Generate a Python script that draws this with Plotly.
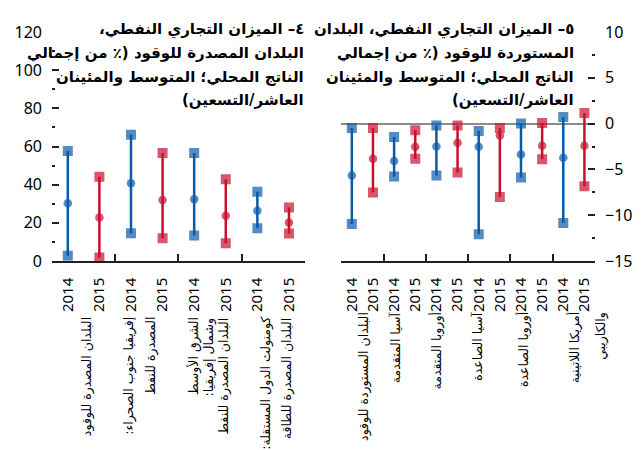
import plotly.graph_objects as go

# ---------------- data ----------------
years = ["2014", "2015"]

exp_groups = [
    "البلدان المصدرة للوقود",
    "إفريقيا جنوب الصحراء:<br>المصدرة للنفط",
    "الشرق الأوسط<br>وشمال إفريقيا:<br>البلدان المصدرة للنفط",
    "كومنولث الدول المستقلة:<br>البلدان المصدرة للطاقة",
]
exp_2014_p10 = [2.8, 14.5, 13.3, 17.1]
exp_2014_mean = [30.3, 40.7, 32.4, 26.3]
exp_2014_p90 = [57.6, 66.1, 56.6, 36.3]
exp_2015_p10 = [1.8, 11.9, 9.3, 14.4]
exp_2015_mean = [22.8, 32.0, 23.7, 20.2]
exp_2015_p90 = [44.1, 56.6, 42.9, 28.0]

imp_groups = [
    "البلدان المستوردة للوقود",
    "آسيا المتقدمة",
    "أوروبا المتقدمة",
    "آسيا الصاعدة",
    "أوروبا الصاعدة",
    "أمريكا اللاتينية<br>والكاريبي",
]
imp_2014_p10 = [-10.95, -5.78, -5.67, -12.07, -5.89, -10.84]
imp_2014_mean = [-5.67, -4.08, -2.49, -2.53, -3.36, -3.72]
imp_2014_p90 = [-0.47, -1.45, -0.22, -0.80, 0.0, 0.72]
imp_2015_p10 = [-7.52, -3.83, -5.35, -8.02, -3.90, -6.83]
imp_2015_mean = [-3.83, -2.53, -2.10, -1.30, -2.42, -2.42]
imp_2015_p90 = [-0.47, -0.72, -0.22, -0.47, 0.07, 1.16]

title_left = "٤– الميزان التجاري النفطي،<br>البلدان المصدرة للوقود (٪ من إجمالي<br>الناتج المحلي؛ المتوسط والمئينان<br>العاشر/التسعين)"
title_right = "٥– الميزان التجاري النفطي، البلدان<br>المستوردة للوقود (٪ من إجمالي<br>الناتج المحلي؛ المتوسط والمئينان<br>العاشر/التسعين)"

# ---------------- style ----------------
BLUE = "#0a5aa8"
RED = "#c8102e"
AXIS = "#231f20"
NUM_FONT = "Noto Sans"
AR_FONT = "DejaVu Sans"
PLOT_TOP = 32
PLOT_H = 229


def rtl(s):
    return "\u200f" + s + "\u200f"


def range_trace(k, lo, mid, hi, color, xa, ya):
    x, y, sym, size = [], [], [], []
    for g, (a, b, c) in enumerate(zip(lo, mid, hi)):
        xi = 2 * g + k
        x += [xi, xi, xi, None]
        y += [a, b, c, None]
        sym += ["square", "circle", "square", "circle"]
        size += [10, 8.5, 10, 0]
    return go.Scatter(
        x=x, y=y, mode="lines+markers",
        line=dict(color=color, width=2.5),
        marker=dict(symbol=sym, size=size, color=color, line=dict(width=0)),
        xaxis=xa, yaxis=ya, showlegend=False, hoverinfo="skip",
    )


fig = go.Figure()
fig.add_trace(range_trace(0, exp_2014_p10, exp_2014_mean, exp_2014_p90, BLUE, "x", "y"))
fig.add_trace(range_trace(1, exp_2015_p10, exp_2015_mean, exp_2015_p90, RED, "x", "y"))
fig.add_trace(range_trace(0, imp_2014_p10, imp_2014_mean, imp_2014_p90, BLUE, "x2", "y2"))
fig.add_trace(range_trace(1, imp_2015_p10, imp_2015_mean, imp_2015_p90, RED, "x2", "y2"))

n_left = 2 * len(exp_groups)
n_right = 2 * len(imp_groups)

common_x = dict(
    showline=True, linecolor=AXIS, linewidth=1.5, ticks="",
    tickangle=-90, tickfont=dict(family=NUM_FONT, size=15, color="#000"),
    showgrid=False, zeroline=False, ticklabelstandoff=9,
)
fig.update_layout(
    width=644, height=450,
    margin=dict(l=52, r=42, t=PLOT_TOP, b=450 - PLOT_TOP - PLOT_H),
    paper_bgcolor="white", plot_bgcolor="white",
    xaxis=dict(
        domain=[0, 0.4655], range=[-0.5, n_left - 0.5], anchor="y",
        tickmode="array", tickvals=list(range(n_left)), ticktext=years * len(exp_groups),
        minor=dict(tickmode="array", tickvals=[2 * g + 1.5 for g in range(len(exp_groups) - 1)],
                   ticks="inside", ticklen=7, tickwidth=1.5, tickcolor=AXIS),
        **common_x,
    ),
    xaxis2=dict(
        domain=[0.5327, 1], range=[-0.5, n_right - 0.5], anchor="y2",
        tickmode="array", tickvals=list(range(n_right)), ticktext=years * len(imp_groups),
        minor=dict(tickmode="array", tickvals=[2 * g + 1.5 for g in range(len(imp_groups) - 1)],
                   ticks="inside", ticklen=7, tickwidth=1.5, tickcolor=AXIS),
        **common_x,
    ),
    yaxis=dict(
        domain=[0, 1], range=[0, 120], anchor="x", dtick=20, tick0=0,
        ticks="inside", ticklen=7, tickwidth=1.5, tickcolor=AXIS,
        minor=dict(dtick=10, tick0=0, ticks="inside", ticklen=3, tickwidth=1.5, tickcolor=AXIS),
        showgrid=False, zeroline=False, showline=False,
        tickfont=dict(family=NUM_FONT, size=16, color="#000"), ticklabelstandoff=9,
    ),
    yaxis2=dict(
        domain=[0, 1], range=[-15, 10], anchor="x2", side="right", dtick=5, tick0=0,
        ticks="inside", ticklen=7, tickwidth=1.5, tickcolor=AXIS,
        minor=dict(dtick=2.5, tick0=0, ticks="inside", ticklen=3, tickwidth=1.5, tickcolor=AXIS),
        showgrid=False, zeroline=True, zerolinecolor="#8c8c8c", zerolinewidth=1.5, showline=False,
        tickfont=dict(family=NUM_FONT, size=16, color="#000"), ticklabelstandoff=9,
    ),
)


# titles: one annotation per line for control of the line pitch
def add_title(text, xa, ya, x_right, first_centre_px, pitch_px):
    for j, line in enumerate(text.split("<br>")):
        py = first_centre_px + j * pitch_px
        fig.add_annotation(
            text="<b>" + rtl(line) + "</b>", xref=xa + " domain", yref=ya + " domain",
            x=x_right, y=(PLOT_TOP + PLOT_H - py) / PLOT_H,
            xanchor="right", yanchor="middle", align="right", showarrow=False,
            font=dict(family=AR_FONT, size=15, color="#000"),
        )


add_title(title_left, "x", "y", 1.006, 30, 23.4)
add_title(title_right, "x2", "y2", 0.926, 30, 23.4)


# group labels: each line as its own rotated annotation
def add_group_labels(groups, xa, ya, y_top, centre_shift, pitches):
    for g, lab in enumerate(groups):
        lines = lab.split("<br>")
        n = len(lines)
        pitch = pitches.get(n, 20)
        for j, line in enumerate(lines):
            fig.add_annotation(
                text=rtl(line), xref=xa, yref=ya + " domain", x=2 * g + 0.5, y=y_top,
                xanchor="center", yanchor="top", textangle=-90, align="right",
                xshift=centre_shift[g] + (j - (n - 1) / 2) * pitch,
                showarrow=False, font=dict(family=AR_FONT, size=12.5, color="#000"),
            )


add_group_labels(exp_groups, "x", "y", -0.236, [3, -7, -1, 3], {2: 22, 3: 15})
add_group_labels(imp_groups, "x2", "y2", -0.214, [1, -9, -10, -12, -8, 14], {2: 26})

fig.write_html("out.html")
